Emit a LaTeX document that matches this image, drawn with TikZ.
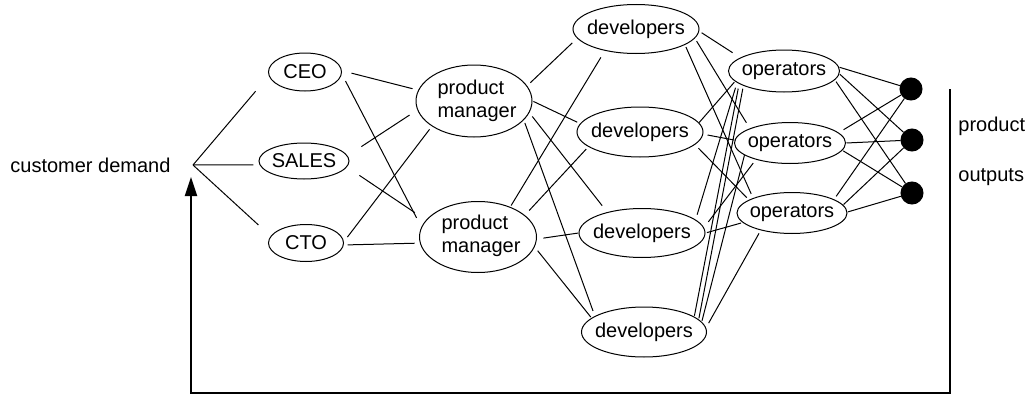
\documentclass[tikz,border=0pt]{standalone}
\usepackage{fontspec}
\setmainfont{Liberation Sans}
\usetikzlibrary{shapes.geometric,arrows.meta}
\begin{document}
\begin{tikzpicture}[x=0.5pt,y=-0.5pt,
  ell/.style={draw, ellipse, inner sep=0pt, line width=0.5pt},
  lbl/.style={inner sep=0pt, font=\fontsize{10}{11.5}\selectfont},
  wire/.style={line width=0.5pt},
  g/.style 2 args={wire, shorten <=#1pt, shorten >=#2pt},
  dotn/.style={circle, fill=black, draw=black, line width=0.5pt, minimum size=11pt, inner sep=0pt},
  fb/.style={line width=1pt}
]
\useasboundingbox (0,0) rectangle (1030,396);

% ellipses
\node[ell, minimum width=36.5pt, minimum height=19pt]   (ceo)   at (305,72)  {};
\node[ell, minimum width=45pt,   minimum height=18pt]   (sales) at (304,161) {};
\node[ell, minimum width=37.5pt, minimum height=18.5pt] (cto)   at (306,243) {};
\node[ell, minimum width=58pt,   minimum height=36pt]   (pm1)   at (474,101) {};
\node[ell, minimum width=58.5pt, minimum height=35.5pt] (pm2)   at (478,237) {};
\node[ell, minimum width=63pt,   minimum height=24.5pt] (dv1)   at (636,29)  {};
\node[ell, minimum width=63pt,   minimum height=25pt]   (dv2)   at (640,132) {};
\node[ell, minimum width=63pt,   minimum height=24.5pt] (dv3)   at (642,233) {};
\node[ell, minimum width=62.5pt, minimum height=25pt]   (dv4)   at (644,332) {};
\node[ell, minimum width=55.5pt, minimum height=21pt]   (op1)   at (784,71)  {};
\node[ell, minimum width=55.5pt, minimum height=20.5pt] (op2)   at (790,143) {};
\node[ell, minimum width=55pt,   minimum height=20.5pt] (op3)   at (792,213) {};
\node[dotn] (d1) at (911,89) {};
\node[dotn] (d2) at (912,140) {};
\node[dotn] (d3) at (912,193) {};

% texts
\node[lbl] (ceoT)   at (ceo)   {CEO};
\node[lbl] (salesT) at (sales) {SALES};
\node[lbl] (ctoT)   at (cto)   {CTO};
\node[lbl, align=left] (pm1T) at (477,100.5) {product\\manager};
\node[lbl, align=left] (pm2T) at (481,236)   {product\\manager};
\node[lbl] (dv1T) at (dv1) {developers};
\node[lbl] (dv2T) at (dv2) {developers};
\node[lbl] (dv3T) at (dv3) {developers};
\node[lbl] (dv4T) at (dv4) {developers};
\node[lbl] (op1T) at (op1) {operators};
\node[lbl] (op2T) at (op2) {operators};
\node[lbl] (op3T) at (op3) {operators};
\node[lbl, anchor=base west] (cd)   at (10,172)  {customer demand};
\node[lbl, anchor=base west] (prod) at (958,131) {product};
\node[lbl, anchor=base west] (outp) at (958,181) {outputs};

\coordinate (J) at (193,165);

% customer demand fan
\draw[g={0}{10.15}] (J) -- (ceo.186);
\draw[g={0}{3.05}]  (J) -- (sales.185);
\draw[g={0}{8.25}]  (J) -- (cto.169);

% to product managers
\draw[g={4.95}{2.9}]  (ceo.2)     -- (pm1.169);
\draw[g={4}{5.15}]    (ceo.357)   -- (pm2.170);
\draw[g={8.25}{4.65}] (sales.7)   -- (pm1.189);
\draw[g={7.45}{6.7}]  (sales.352) -- (pm2.162);
\draw[g={2.9}{1.9}]   (cto.2)     -- (pm1.211);
\draw[g={1.9}{2.65}]  (cto.357)   -- (pm2.186);

% to developers
\draw[g={2.2}{3.35}]  (pm1.16)  -- (dv1.189);
\draw[g={0.5}{1.6}]   (pm1.0)   -- (dv2.172);
\draw[g={2.35}{4.05}] (pm1.348) -- (dv3.149);
\draw[g={1.5}{2.7}]   (pm1.339) -- (dv4.162);
\draw[g={0.8}{3.85}]  (pm2.43)  -- (dv1.215);
\draw[g={3.15}{1.55}] (pm2.25)  -- (dv2.196);
\draw[g={3.25}{0.15}] (pm2.358) -- (dv3.180);
\draw[g={2.4}{0.5}]   (pm2.350) -- (dv4.165);

% to operators
\draw[g={1.4}{4.55}]  (dv1.358) -- (op1.163);
\draw[g={1.6}{3.3}]   (dv1.351) -- (op2.160);
\draw[g={1.2}{2.3}]   (dv1.342) -- (op3.159);
\draw[g={0.1}{0.5}]   (dv2.9)   -- (op1.192);
\draw[g={2.2}{0.1}]   (dv2.358) -- (op2.177);
\draw[g={2.45}{1.55}] (dv2.347) -- (op3.163);
\draw[g={2.6}{2.6}]   (dv3.14)  -- (op1.194);
\draw[g={3.6}{2.2}]   (dv3.5)   -- (op2.206);
\draw[g={0.75}{0.8}]  (dv3.0)   -- (op3.191);
\draw[g={0.45}{2.4}]  (dv4.17)  -- (op1.196);
\draw[g={0.5}{1.5}]   (dv4.13)  -- (op1.200);
\draw[g={0.5}{0}]     (dv4.10)  -- (op2.195);
\draw[g={2.6}{1.7}]   (dv4.4)   -- (op3.209);

% to outputs
\draw[g={0.25}{0}] (op1.4)   -- (d1);
\draw[g={0.25}{0}] (op1.357) -- (d2);
\draw[g={1}{0}]    (op1.350) -- (d3);
\draw[g={2.8}{0}]  (op2.12)  -- (d1);
\draw[g={0.25}{0}] (op2.0)   -- (d2);
\draw[g={0.5}{0}]  (op2.352) -- (d3);
\draw[g={1.8}{0}]  (op3.18)  -- (d1);
\draw[g={0.25}{0}] (op3.9)   -- (d2);
\draw[g={0.25}{0}] (op3.1)   -- (d3);

% feedback loop
\coordinate (fbTop) at (950,89);
\coordinate (fbBot) at (570,393);
\coordinate (fbTip) at (191,177);
\draw[fb, -{Triangle[length=9.5pt,width=6pt]}]
  (fbTop) -- (fbTop |- fbBot) -- (fbTip |- fbBot) -- (fbTip);
\end{tikzpicture}
\end{document}
